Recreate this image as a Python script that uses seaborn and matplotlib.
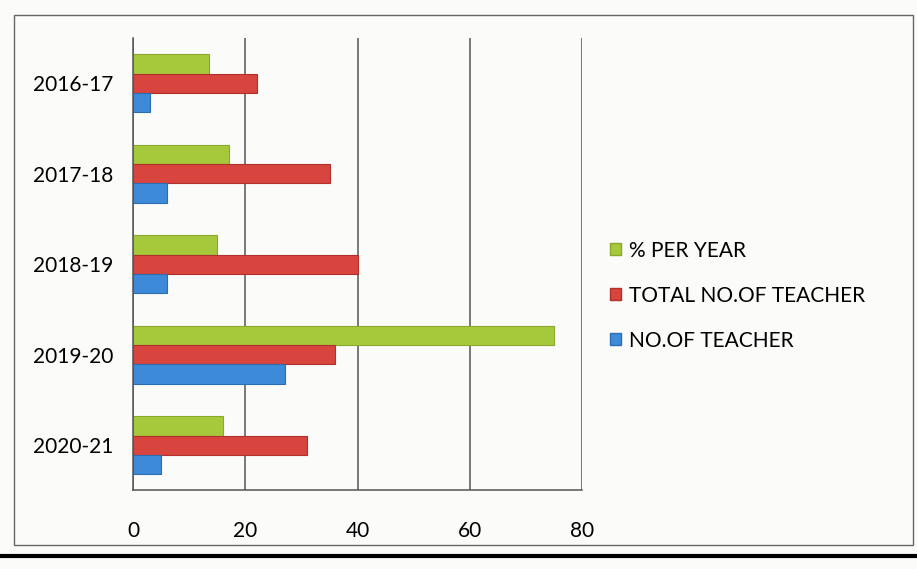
import pandas as pd
import matplotlib.pyplot as plt
import seaborn as sns
from matplotlib.patches import Rectangle
from matplotlib.lines import Line2D

# values
years = ['2016-17', '2017-18', '2018-19', '2019-20', '2020-21']
pct_per_year = [13.6, 17.1, 15.0, 75.0, 16.1]
total_teachers = [22, 35, 40, 36, 31]
no_of_teachers = [3, 6, 6, 27, 5]

series = ['% PER YEAR', 'TOTAL NO.OF TEACHER', 'NO.OF TEACHER']
colors = ['#A6C93C', '#D8453F', '#3D8AD8']
edges = ['#8AA82C', '#B0302C', '#2C6CB0']

df = pd.DataFrame({
    'Year': years * 3,
    'Series': [s for s in series for _ in years],
    'Value': pct_per_year + total_teachers + no_of_teachers,
})

sns.set_style('white')
plt.rcParams['font.family'] = ['Lato', 'DejaVu Sans']
plt.rcParams['text.color'] = 'black'
plt.rcParams['xtick.color'] = 'black'
plt.rcParams['ytick.color'] = 'black'

fig = plt.figure(figsize=(9.17, 5.69), dpi=100)
fig.patch.set_facecolor('#FBFBFA')
ax = fig.add_axes([0.145, 0.138, 0.49, 0.795])
ax.set_facecolor('#FBFBFA')

sns.barplot(data=df, y='Year', x='Value', hue='Series', hue_order=series,
            order=years, palette=colors, orient='h', width=0.64,
            saturation=1, ax=ax, legend=False)

for i, cont in enumerate(ax.containers):
    for bar in cont:
        bar.set_edgecolor(edges[i])
        bar.set_linewidth(0.8)

ax.set_xlim(0, 80)
ax.set_ylim(4.5, -0.5)
ax.set_xticks([0, 20, 40, 60, 80])
ax.set_xticklabels(['0', '20', '40', '60', '80'], fontsize=15)
ax.grid(axis='x', color='#555555', linewidth=1.1)
ax.set_axisbelow(True)

# category labels centered, ticks between groups
ax.set_yticks(range(len(years)))
ax.set_yticklabels(years, fontsize=15)
ax.set_yticks([-0.5, 0.5, 1.5, 2.5, 3.5, 4.5], minor=True)
ax.tick_params(axis='y', which='major', length=0, pad=14)
ax.tick_params(axis='y', which='minor', length=5, width=1, color='#555555', direction='out')
ax.tick_params(axis='x', length=8, width=1, color='#555555', direction='out', pad=14)
ax.set_xlabel('')
ax.set_ylabel('')

for side in ['top', 'right']:
    ax.spines[side].set_visible(False)
ax.spines['left'].set_color('#555555')
ax.spines['bottom'].set_color('#555555')
ax.spines['left'].set_linewidth(1.1)
ax.spines['bottom'].set_linewidth(1.1)

handles = [Rectangle((0, 0), 1, 1, facecolor=c, edgecolor=e) for c, e in zip(colors, edges)]
fig.legend(handles, series, loc='upper left', bbox_to_anchor=(0.645, 0.61),
           frameon=False, fontsize=15, handlelength=0.5, handleheight=0.5,
           handletextpad=0.4, labelspacing=1.2)

# chart area border and page edge
fig.patches.append(Rectangle((14 / 917, 1 - 545 / 569), 899 / 917, 530 / 569,
                             transform=fig.transFigure, fill=False,
                             edgecolor='#666666', linewidth=1.0))
fig.lines.append(Line2D([0, 1], [1 - 556 / 569, 1 - 556 / 569],
                        transform=fig.transFigure, color='black', linewidth=3))

fig.savefig('out.png', dpi=100, facecolor=fig.get_facecolor())
